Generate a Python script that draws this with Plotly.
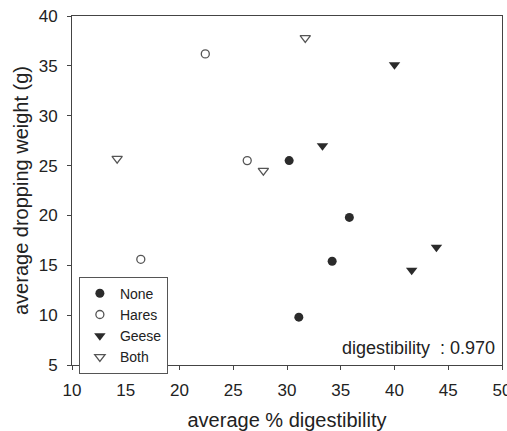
import plotly.graph_objects as go

none_x = [30.2, 35.8, 34.2, 31.1]
none_y = [25.5, 19.8, 15.4, 9.8]
hares_x = [22.4, 26.3, 16.4]
hares_y = [36.2, 25.5, 15.6]
geese_x = [40.0, 33.3, 41.6, 43.9]
geese_y = [35.1, 27.0, 14.5, 16.8]
both_x = [14.2, 31.7, 27.8]
both_y = [25.7, 37.8, 24.5]

x_ticks = [10, 15, 20, 25, 30, 35, 40, 45, 50]
y_ticks = [5, 10, 15, 20, 25, 30, 35, 40]

FONT = "Liberation Sans, Arial, sans-serif"
DARK = "#2b2b2b"
GRAY = "#555555"

fig = go.Figure()
fig.add_trace(go.Scatter(x=none_x, y=none_y, mode="markers", name="None",
                         marker=dict(symbol="circle", size=9, color=DARK, line=dict(width=0))))
fig.add_trace(go.Scatter(x=hares_x, y=hares_y, mode="markers", name="Hares",
                         marker=dict(symbol="circle-open", size=8, color=GRAY, line=dict(width=1.3))))
fig.add_trace(go.Scatter(x=geese_x, y=geese_y, mode="markers", name="Geese",
                         marker=dict(symbol="triangle-down", size=10, color=DARK, line=dict(width=0))))
fig.add_trace(go.Scatter(x=both_x, y=both_y, mode="markers", name="Both",
                         marker=dict(symbol="triangle-down-open", size=9, color=GRAY, line=dict(width=1.3))))

fig.add_annotation(x=1, y=0, xref="paper", yref="paper", xanchor="right", yanchor="bottom",
                   xshift=-5, yshift=5, showarrow=False,
                   text="digestibility  : 0.970", font=dict(family=FONT, size=18, color="#222"))

axis_common = dict(showgrid=False, zeroline=False, showline=True, linecolor="#444", linewidth=1,
                   mirror=True, ticks="outside", ticklen=4, tickcolor="#444",
                   ticklabeloverflow="allow", automargin=False,
                   tickfont=dict(family=FONT, size=17, color="#222"))

fig.update_layout(
    width=507, height=431,
    margin=dict(l=72, r=5, t=16, b=66),
    plot_bgcolor="white", paper_bgcolor="white",
    font=dict(family=FONT, color="#222"),
    xaxis=dict(range=[10, 50], tickvals=x_ticks, ticktext=[str(v) for v in x_ticks],
               ticklabelstandoff=6,
               title=dict(text="average % digestibility", font=dict(family=FONT, size=20), standoff=14),
               **axis_common),
    yaxis=dict(range=[5, 40], tickvals=y_ticks, ticktext=[str(v) for v in y_ticks],
               ticklabelstandoff=6,
               title=dict(text="average dropping weight (g)", font=dict(family=FONT, size=20), standoff=4),
               **axis_common),
    showlegend=True,
    legend=dict(x=0.016, y=0.253, xanchor="left", yanchor="top",
                bordercolor=GRAY, borderwidth=1, bgcolor="white",
                font=dict(family=FONT, size=14, color="#222"),
                itemwidth=30, tracegroupgap=0),
)

fig.write_html("out.html")
